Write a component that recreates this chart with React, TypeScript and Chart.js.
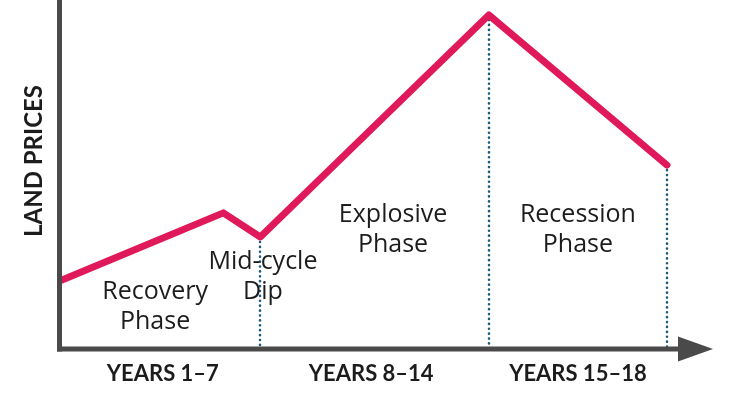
import { useEffect, useRef } from "react";
import { Chart, registerables } from "chart.js";
Chart.register(...registerables);

// Cycle position (years into the cycle) and relative land price
const cyclePositions = [0, 4.8, 5.9, 12.7, 18];
const landPrices = [19.8, 39, 32.1, 95.7, 52.7];
// Points that get a dotted drop line to the axis
const markerIndices = [2, 3, 4];
// Period labels under the axis
const periodLabels = ["YEARS 1–7", "YEARS 8–14", "YEARS 15–18"];
const periodCenters = [3.0, 9.2, 15.35];
// Phase labels inside the plot
const phaseLabels = [
  ["Recovery", "Phase"],
  ["Mid-cycle", "Dip"],
  ["Explosive", "Phase"],
  ["Recession", "Phase"],
];
const phaseCenters = [2.77, 5.98, 9.85, 15.35];
const phaseLevels = [16.3, 24.9, 38.4, 38.4];
const yTitle = "LAND PRICES";

const LINE = "#e0195a";
const AXIS = "#4a4a4a";
const DOTS = "#1d5b7d";
const TEXT = "#1c1c1c";

const decor = {
  id: "decor",
  beforeDatasetsDraw(chart: any) {
    const { ctx, scales } = chart;
    const x = scales.x, y = scales.y;
    ctx.save();
    ctx.strokeStyle = DOTS;
    ctx.lineWidth = 2.6;
    ctx.lineCap = "round";
    ctx.setLineDash([0.1, 4.8]);
    for (const i of markerIndices) {
      const px = Math.round(x.getPixelForValue(cyclePositions[i]));
      ctx.beginPath();
      ctx.moveTo(px, y.getPixelForValue(landPrices[i]) + 5);
      ctx.lineTo(px, y.getPixelForValue(0) - 2);
      ctx.stroke();
    }
    ctx.restore();

    // phase labels
    ctx.save();
    ctx.fillStyle = TEXT;
    ctx.font = "400 25px 'Open Sans'";
    ctx.textAlign = "center";
    ctx.textBaseline = "middle";
    phaseLabels.forEach((lines, k) => {
      const cx = x.getPixelForValue(phaseCenters[k]);
      const cy = y.getPixelForValue(phaseLevels[k]);
      lines.forEach((t, j) => ctx.fillText(t, cx, cy + j * 30));
    });
    ctx.restore();
  },
  afterDatasetsDraw(chart: any) {
    const { ctx, scales } = chart;
    const x = scales.x, y = scales.y;
    const x0 = x.getPixelForValue(0);
    const y0 = y.getPixelForValue(0);
    const xEnd = x.right;
    ctx.save();
    ctx.strokeStyle = AXIS;
    ctx.fillStyle = AXIS;
    ctx.lineWidth = 5;
    ctx.lineCap = "butt";
    ctx.beginPath();
    ctx.moveTo(x0 - 2.5, 0);
    ctx.lineTo(x0 - 2.5, y0 + 2.5);
    ctx.stroke();
    ctx.beginPath();
    ctx.moveTo(x0 - 5, y0);
    ctx.lineTo(xEnd - 32, y0);
    ctx.stroke();
    ctx.beginPath();
    ctx.moveTo(xEnd - 34, y0 - 12.5);
    ctx.lineTo(xEnd + 1, y0);
    ctx.lineTo(xEnd - 34, y0 + 12.5);
    ctx.closePath();
    ctx.fill();

    // period labels
    ctx.fillStyle = TEXT;
    ctx.font = "700 22px Lato";
    ctx.textAlign = "center";
    ctx.textBaseline = "middle";
    periodLabels.forEach((t, k) => {
      ctx.fillText(t, x.getPixelForValue(periodCenters[k]), y0 + 25);
    });

    // y title
    ctx.font = "700 24px Lato";
    ctx.translate(34, 161);
    ctx.rotate(-Math.PI / 2);
    ctx.fillText(yTitle, 0, 0);
    ctx.restore();
  },
};

export default function App() {
  const ref = useRef<HTMLCanvasElement>(null);
  useEffect(() => {
    document.body.style.margin = "0";
    const chart = new Chart(ref.current!, {
      type: "line",
      data: {
        datasets: [
          {
            data: cyclePositions.map((c, i) => ({ x: c, y: landPrices[i] })),
            borderColor: LINE,
            borderWidth: 7,
            borderCapStyle: "round",
            borderJoinStyle: "round",
            pointRadius: 0,
            tension: 0,
            fill: false,
            clip: false as any,
          },
        ],
      },
      options: {
        responsive: false,
        animation: false,
        layout: { padding: { left: 62, right: 38, top: 0, bottom: 45 } },
        plugins: { legend: { display: false }, tooltip: { enabled: false } },
        scales: {
          x: { type: "linear", min: 0, max: 19.34, display: false },
          y: { type: "linear", min: 0, max: 100, display: false },
        },
      },
      plugins: [decor],
    });
    return () => chart.destroy();
  }, []);
  return (
    <div style={{ position: "fixed", left: 0, top: 0, width: 750, height: 394, background: "#fff" }}>
      <canvas ref={ref} width={750} height={394} />
    </div>
  );
}
